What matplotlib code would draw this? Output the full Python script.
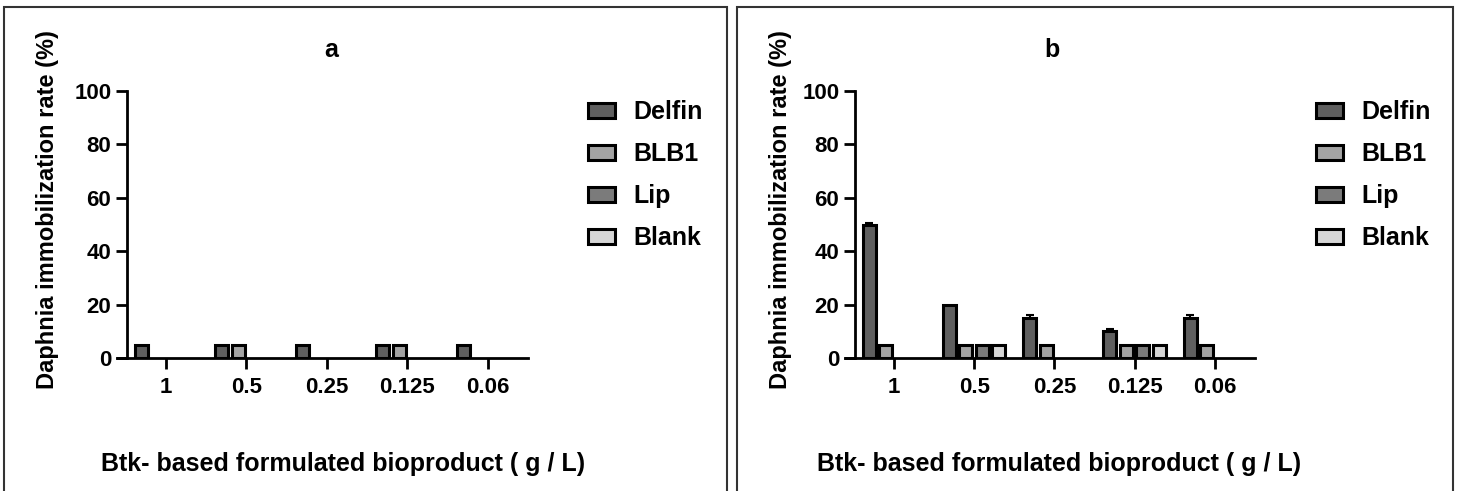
import numpy as np
import matplotlib
matplotlib.use("Agg")
import matplotlib.pyplot as plt
from matplotlib.patches import Rectangle, Patch

plt.rcParams['font.family'] = ['Liberation Sans', 'DejaVu Sans']
plt.rcParams['font.weight'] = 'bold'

# data
doses = ['1', '0.5', '0.25', '0.125', '0.06']
series = ['Delfin', 'BLB1', 'Lip', 'Blank']
colors = ['#5f5f5f', '#a3a3a3', '#7b7b7b', '#d6d6d6']

a_delfin = [5, 5, 5, 5, 5]
a_blb1 = [0, 5, 0, 5, 0]
a_lip = [0, 0, 0, 0, 0]
a_blank = [0, 0, 0, 0, 0]

b_delfin = [50, 20, 15, 10, 15]
b_blb1 = [5, 5, 5, 5, 5]
b_lip = [0, 5, 0, 5, 0]
b_blank = [0, 5, 0, 5, 0]

b_delfin_err = [0.6, 0, 1, 1, 1]

W, H = 1461, 491
fig = plt.figure(figsize=(W / 100, H / 100), dpi=100)

def fx(px): return px / W
def fy(py): return 1 - py / H

# panel borders
for x0, x1 in [(4, 727), (737, 1453)]:
    fig.patches.append(Rectangle((fx(x0), fy(H + 20)), fx(x1 - x0), (H + 13) / H,
                                 transform=fig.transFigure, fill=False,
                                 edgecolor='#333333', linewidth=1.5))

def panel(ax_left, ax_right, title, title_x, ylab_x, xlab_x, leg_x, data, errs):
    ax = fig.add_axes([fx(ax_left), fy(358), fx(ax_right - ax_left), (358 - 91) / H])
    x = np.arange(len(doses))
    bw, step = 0.162, 0.205
    for i, (vals, c) in enumerate(zip(data, colors)):
        vals = np.array(vals, dtype=float)
        pos = x + (i - 1.5) * step
        mask = vals > 0
        if not mask.any():
            continue
        ax.bar(pos[mask], vals[mask], width=bw, color=c, edgecolor='black',
               linewidth=2.2, zorder=2)
        if errs[i] is not None:
            e = np.array(errs[i], dtype=float)
            m2 = mask & (e > 0)
            ax.errorbar(pos[m2], vals[m2], yerr=[np.zeros(m2.sum()), e[m2]],
                        fmt='none', ecolor='black', elinewidth=1.5, capsize=3,
                        capthick=1.5, zorder=3)
    ax.set_xlim(-0.61, 4.5)
    ax.set_ylim(0, 100)
    ax.set_yticks([0, 20, 40, 60, 80, 100])
    ax.set_xticks(x)
    ax.set_xticklabels(doses)
    ax.spines['top'].set_visible(False)
    ax.spines['right'].set_visible(False)
    ax.spines['left'].set_position(('data', -0.49))
    ax.spines['left'].set_linewidth(2)
    ax.spines['bottom'].set_linewidth(2)
    ax.tick_params(axis='both', width=2, length=8, labelsize=16, colors='black')
    ax.tick_params(axis='y', pad=3)
    ax.tick_params(axis='x', pad=6)
    for lab in ax.get_xticklabels() + ax.get_yticklabels():
        lab.set_fontweight('bold')
    fig.text(fx(title_x), fy(50), title, ha='center', va='center',
             fontsize=18, fontweight='bold')
    fig.text(fx(ylab_x), fy(210), 'Daphnia immobilization rate (%)', rotation=90,
             ha='center', va='center', fontsize=17, fontweight='bold')
    fig.text(fx(xlab_x), fy(464), 'Btk- based formulated bioproduct ( g / L)',
             ha='center', va='center', fontsize=18, fontweight='bold')
    handles = [Patch(facecolor=c, edgecolor='black', linewidth=2.2, label=s)
               for s, c in zip(series, colors)]
    ax.legend(handles=handles, loc='upper left', bbox_to_anchor=(fx(leg_x), fy(100)),
              bbox_transform=fig.transFigure, frameon=False, borderpad=0,
              borderaxespad=0, handlelength=1.08, handleheight=0.55,
              handletextpad=0.72, labelspacing=0.72,
              prop={'size': 18, 'weight': 'bold'})
    return ax

panel(117, 528, 'a', 331, 48, 343, 588,
      [a_delfin, a_blb1, a_lip, a_blank], [None, None, None, None])
panel(845, 1255, 'b', 1052, 781, 1059, 1316,
      [b_delfin, b_blb1, b_lip, b_blank], [b_delfin_err, None, None, None])

fig.savefig('out.png', dpi=100)
